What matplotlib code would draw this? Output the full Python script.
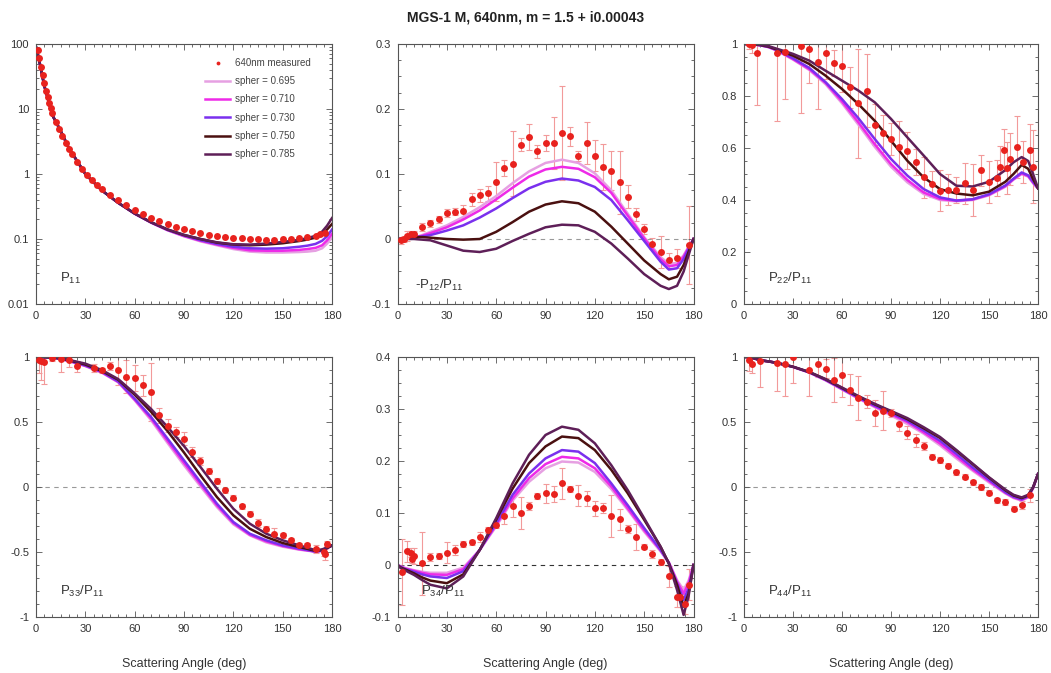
import matplotlib

matplotlib.use("Agg")

import matplotlib.pyplot as plt
from matplotlib.ticker import FuncFormatter, LogLocator, MultipleLocator, NullFormatter

plt.rcParams["font.family"] = ["Liberation Sans", "DejaVu Sans"]
plt.rcParams["mathtext.default"] = "regular"
plt.rcParams["axes.unicode_minus"] = False

TITLE = "MGS-1 M, 640nm, m = 1.5 + i0.00043"
XLABEL = "Scattering Angle (deg)"

# model curves: one row per sphericity value
SPHER = ["0.695", "0.710", "0.730", "0.750", "0.785"]
MODEL_COLORS = ["#e6a0e2", "#ee2ae8", "#7a30ee", "#4a1010", "#5e1f58"]
ANGLES = [0, 2, 5, 10, 15, 20, 30, 40, 50, 60, 70, 80, 90, 100, 110, 120,
          130, 140, 150, 160, 165, 170, 174, 177, 180]

P11_MODEL = [
    [90, 55, 23, 8.0, 4.6, 2.5, 1.0, 0.56, 0.36, 0.245, 0.178, 0.136, 0.110, 0.092,
     0.080, 0.070, 0.064, 0.062, 0.062, 0.063, 0.064, 0.066, 0.072, 0.085, 0.105],
    [90, 55, 23, 8.0, 4.6, 2.5, 1.0, 0.56, 0.36, 0.245, 0.179, 0.137, 0.111, 0.094,
     0.082, 0.073, 0.067, 0.066, 0.066, 0.068, 0.070, 0.073, 0.080, 0.095, 0.120],
    [90, 55, 23, 8.0, 4.6, 2.5, 1.0, 0.56, 0.36, 0.246, 0.180, 0.138, 0.113, 0.096,
     0.084, 0.076, 0.072, 0.071, 0.072, 0.076, 0.079, 0.084, 0.094, 0.110, 0.140],
    [90, 55, 23, 8.0, 4.6, 2.5, 1.0, 0.56, 0.36, 0.247, 0.181, 0.140, 0.115, 0.100,
     0.088, 0.082, 0.080, 0.082, 0.086, 0.093, 0.098, 0.105, 0.118, 0.140, 0.170],
    [90, 55, 23, 8.0, 4.6, 2.5, 1.0, 0.56, 0.36, 0.247, 0.181, 0.140, 0.116, 0.100,
     0.089, 0.083, 0.082, 0.085, 0.090, 0.097, 0.103, 0.112, 0.130, 0.160, 0.210],
]
P12_MODEL = [
    [0, 0.0, 0.001, 0.002, 0.006, 0.011, 0.021, 0.034, 0.049, 0.066, 0.086, 0.104, 0.117,
     0.122, 0.117, 0.101, 0.075, 0.039, 0.003, -0.028, -0.038, -0.037, -0.025, -0.012, 0],
    [0, 0.0, 0.001, 0.002, 0.005, 0.009, 0.018, 0.030, 0.044, 0.061, 0.079, 0.096, 0.107,
     0.111, 0.108, 0.095, 0.071, 0.036, 0.001, -0.031, -0.042, -0.040, -0.027, -0.013, 0],
    [0, 0.0, 0.001, 0.002, 0.004, 0.006, 0.013, 0.021, 0.033, 0.047, 0.063, 0.078, 0.088,
     0.093, 0.090, 0.080, 0.060, 0.029, -0.003, -0.035, -0.047, -0.045, -0.031, -0.015, 0],
    [0, 0.0, 0.001, 0.003, 0.003, 0.002, 0.000, -0.001, 0.000, 0.011, 0.026, 0.042, 0.053,
     0.058, 0.055, 0.042, 0.019, -0.007, -0.033, -0.054, -0.062, -0.058, -0.040, -0.020, 0],
    [0, 0.0, 0.0, 0.0, -0.001, -0.002, -0.010, -0.018, -0.020, -0.015, -0.003, 0.008, 0.018,
     0.022, 0.021, 0.011, -0.007, -0.030, -0.054, -0.072, -0.077, -0.072, -0.050, -0.025, 0],
]
P22_MODEL = [
    [1, 1, 0.999, 0.995, 0.988, 0.975, 0.940, 0.900, 0.845, 0.772, 0.690, 0.605, 0.528,
     0.468, 0.423, 0.400, 0.395, 0.400, 0.418, 0.451, 0.478, 0.500, 0.490, 0.465, 0.445],
    [1, 1, 0.999, 0.995, 0.988, 0.976, 0.942, 0.903, 0.850, 0.779, 0.699, 0.615, 0.538,
     0.477, 0.429, 0.404, 0.397, 0.402, 0.420, 0.453, 0.480, 0.502, 0.492, 0.466, 0.445],
    [1, 1, 0.999, 0.995, 0.989, 0.977, 0.945, 0.908, 0.853, 0.788, 0.715, 0.635, 0.558,
     0.494, 0.442, 0.410, 0.398, 0.403, 0.422, 0.456, 0.482, 0.506, 0.495, 0.470, 0.445],
    [1, 1, 0.999, 0.996, 0.990, 0.979, 0.955, 0.923, 0.878, 0.827, 0.769, 0.705, 0.628,
     0.551, 0.487, 0.442, 0.425, 0.418, 0.432, 0.470, 0.500, 0.535, 0.520, 0.480, 0.445],
    [1, 1, 0.999, 0.997, 0.992, 0.982, 0.962, 0.936, 0.897, 0.859, 0.821, 0.776, 0.712,
     0.641, 0.571, 0.500, 0.455, 0.452, 0.470, 0.515, 0.545, 0.565, 0.550, 0.500, 0.445],
]
P33_MODEL = [
    [1, 1, 0.999, 0.995, 0.985, 0.969, 0.930, 0.880, 0.805, 0.667, 0.513, 0.338, 0.167,
     0.005, -0.154, -0.287, -0.372, -0.426, -0.459, -0.482, -0.490, -0.497, -0.490, -0.470, -0.450],
    [1, 1, 0.999, 0.995, 0.985, 0.970, 0.932, 0.882, 0.808, 0.672, 0.526, 0.354, 0.185,
     0.021, -0.141, -0.277, -0.367, -0.418, -0.454, -0.479, -0.488, -0.497, -0.490, -0.470, -0.450],
    [1, 1, 0.999, 0.995, 0.986, 0.971, 0.935, 0.886, 0.812, 0.679, 0.538, 0.372, 0.205,
     0.038, -0.128, -0.269, -0.359, -0.410, -0.449, -0.474, -0.485, -0.497, -0.490, -0.470, -0.450],
    [1, 1, 0.999, 0.996, 0.988, 0.975, 0.942, 0.893, 0.825, 0.710, 0.578, 0.430, 0.265,
     0.090, -0.077, -0.218, -0.321, -0.385, -0.431, -0.462, -0.476, -0.492, -0.485, -0.470, -0.450],
    [1, 1, 0.999, 0.997, 0.990, 0.978, 0.949, 0.900, 0.830, 0.720, 0.600, 0.462, 0.315,
     0.154, -0.013, -0.167, -0.282, -0.359, -0.410, -0.449, -0.467, -0.487, -0.480, -0.465, -0.450],
]
P34_MODEL = [
    [0, -0.003, -0.006, -0.010, -0.013, -0.015, -0.015, -0.005, 0.029, 0.074, 0.124, 0.160,
     0.186, 0.199, 0.197, 0.179, 0.146, 0.106, 0.064, 0.026, 0.005, -0.029, -0.048, -0.030, 0],
    [0, -0.003, -0.007, -0.011, -0.015, -0.018, -0.019, -0.008, 0.029, 0.077, 0.128, 0.167,
     0.194, 0.208, 0.205, 0.186, 0.151, 0.109, 0.067, 0.028, 0.005, -0.032, -0.055, -0.035, 0],
    [0, -0.004, -0.008, -0.013, -0.018, -0.022, -0.025, -0.012, 0.029, 0.080, 0.135, 0.176,
     0.205, 0.221, 0.218, 0.196, 0.157, 0.115, 0.071, 0.029, 0.004, -0.035, -0.067, -0.045, 0],
    [0, -0.005, -0.009, -0.016, -0.024, -0.030, -0.035, -0.018, 0.029, 0.087, 0.147, 0.196,
     0.228, 0.247, 0.244, 0.221, 0.183, 0.138, 0.087, 0.035, 0.003, -0.038, -0.080, -0.055, 0],
    [0, -0.006, -0.011, -0.019, -0.029, -0.038, -0.045, -0.022, 0.029, 0.090, 0.157, 0.212,
     0.250, 0.266, 0.260, 0.234, 0.192, 0.144, 0.090, 0.035, 0.003, -0.048, -0.096, -0.060, 0],
]
P44_MODEL = [
    [1, 1, 0.994, 0.975, 0.966, 0.955, 0.923, 0.880, 0.820, 0.750, 0.680, 0.615, 0.550,
     0.485, 0.410, 0.320, 0.220, 0.125, 0.035, -0.050, -0.085, -0.105, -0.080, -0.010, 0.100],
    [1, 1, 0.994, 0.975, 0.966, 0.955, 0.924, 0.881, 0.822, 0.753, 0.684, 0.620, 0.560,
     0.500, 0.420, 0.335, 0.235, 0.135, 0.045, -0.045, -0.080, -0.100, -0.075, -0.008, 0.100],
    [1, 1, 0.994, 0.975, 0.966, 0.955, 0.924, 0.882, 0.824, 0.756, 0.688, 0.626, 0.570,
     0.510, 0.435, 0.355, 0.255, 0.150, 0.055, -0.040, -0.075, -0.095, -0.070, -0.005, 0.100],
    [1, 1, 0.994, 0.975, 0.966, 0.955, 0.925, 0.884, 0.828, 0.762, 0.696, 0.636, 0.580,
     0.522, 0.452, 0.378, 0.278, 0.175, 0.072, -0.025, -0.065, -0.085, -0.065, -0.003, 0.100],
    [1, 1, 0.994, 0.975, 0.966, 0.955, 0.925, 0.885, 0.830, 0.765, 0.700, 0.640, 0.585,
     0.530, 0.460, 0.385, 0.285, 0.180, 0.075, -0.020, -0.060, -0.080, -0.060, 0.000, 0.100],
]

# 640 nm laboratory measurements
P11_ANG = [1, 2, 3, 4, 5, 6, 7, 8, 9, 10, 12, 14, 16, 18, 20, 22, 25, 28, 31, 34, 37, 40,
           45, 50, 55, 60, 65, 70, 75, 80, 85, 90, 95, 100, 105, 110, 115, 120, 125, 130,
           135, 140, 145, 150, 155, 160, 165, 170, 173, 176]
P11_MEAS = [80, 60, 45, 33, 25, 19, 15.5, 12.5, 10.5, 8.6, 6.3, 4.9, 3.8, 3.0, 2.4, 2.0,
            1.55, 1.2, 0.97, 0.8, 0.68, 0.58, 0.48, 0.40, 0.33, 0.28, 0.24, 0.21, 0.19,
            0.17, 0.155, 0.142, 0.132, 0.124, 0.117, 0.111, 0.107, 0.104, 0.102, 0.100,
            0.099, 0.098, 0.098, 0.099, 0.100, 0.103, 0.107, 0.113, 0.118, 0.125]

P12_ANG = [2, 4, 6, 8, 10, 15, 20, 25, 30, 35, 40, 45, 50, 55, 60, 65, 70, 75, 80, 85, 90,
           95, 100, 105, 110, 115, 120, 125, 130, 135, 140, 145, 150, 155, 160, 165, 170, 177]
P12_MEAS = [-0.002, 0.000, 0.005, 0.007, 0.008, 0.019, 0.024, 0.030, 0.040, 0.042, 0.043,
            0.061, 0.067, 0.070, 0.088, 0.109, 0.116, 0.145, 0.157, 0.135, 0.148, 0.147,
            0.163, 0.158, 0.128, 0.148, 0.128, 0.111, 0.105, 0.087, 0.065, 0.038, 0.015,
            -0.007, -0.020, -0.033, -0.030, -0.010]
P12_ERR = [0.005, 0.005, 0.008, 0.005, 0.005, 0.006, 0.005, 0.005, 0.006, 0.005, 0.010,
           0.010, 0.010, 0.012, 0.030, 0.012, 0.050, 0.010, 0.020, 0.010, 0.012, 0.040,
           0.072, 0.015, 0.008, 0.032, 0.024, 0.035, 0.030, 0.048, 0.018, 0.010, 0.008,
           0.008, 0.025, 0.012, 0.015, 0.060]

P22_ANG = [3, 5, 8, 20, 25, 35, 40, 45, 50, 55, 60, 65, 70, 75, 80, 85, 90, 95, 100, 105,
           110, 115, 120, 125, 130, 135, 140, 145, 150, 155, 157, 159, 161, 163, 167, 171,
           175, 177]
P22_MEAS = [1.0, 0.995, 0.964, 0.964, 0.97, 0.994, 0.981, 0.93, 0.964, 0.927, 0.914,
            0.833, 0.772, 0.82, 0.69, 0.656, 0.635, 0.603, 0.59, 0.545, 0.487, 0.46, 0.436,
            0.44, 0.438, 0.464, 0.438, 0.515, 0.47, 0.484, 0.528, 0.592, 0.523, 0.556,
            0.605, 0.547, 0.592, 0.528]
P22_ERR = [0.02, 0.03, 0.20, 0.26, 0.18, 0.26, 0.13, 0.18, 0.10, 0.05, 0.10, 0.08, 0.21,
           0.14, 0.08, 0.07, 0.06, 0.10, 0.07, 0.05, 0.08, 0.05, 0.08, 0.06, 0.05, 0.08,
           0.10, 0.06, 0.08, 0.07, 0.08, 0.08, 0.10, 0.10, 0.12, 0.08, 0.10, 0.14]

P33_ANG = [2, 3, 5, 10, 15, 20, 25, 35, 40, 45, 50, 55, 60, 65, 70, 75, 80, 85, 90, 95,
           100, 105, 110, 115, 120, 125, 130, 135, 140, 145, 150, 155, 160, 165, 170, 175,
           176, 177]
P33_MEAS = [0.979, 0.97, 0.962, 0.99, 0.985, 0.975, 0.928, 0.918, 0.897, 0.928, 0.903,
            0.85, 0.841, 0.782, 0.731, 0.551, 0.47, 0.423, 0.372, 0.269, 0.2, 0.123, 0.046,
            -0.026, -0.082, -0.149, -0.205, -0.277, -0.321, -0.359, -0.372, -0.41, -0.449,
            -0.449, -0.474, -0.5, -0.518, -0.436]
P33_ERR = [0.10, 0.15, 0.17, 0.02, 0.10, 0.05, 0.04, 0.03, 0.02, 0.03, 0.12, 0.13, 0.10,
           0.08, 0.22, 0.06, 0.05, 0.04, 0.05, 0.04, 0.03, 0.02, 0.02, 0.02, 0.02, 0.02,
           0.02, 0.03, 0.02, 0.04, 0.02, 0.02, 0.02, 0.02, 0.03, 0.03, 0.04, 0.02]

P34_ANG = [3, 6, 8, 9, 10, 15, 20, 25, 30, 35, 40, 45, 50, 55, 60, 65, 70, 75, 80, 85, 90,
           95, 100, 105, 110, 115, 120, 125, 130, 135, 140, 145, 150, 155, 160, 165, 170,
           172, 175, 177]
P34_MEAS = [-0.013, 0.026, 0.024, 0.011, 0.017, 0.003, 0.015, 0.018, 0.024, 0.029, 0.04,
            0.044, 0.054, 0.067, 0.077, 0.094, 0.113, 0.1, 0.113, 0.133, 0.138, 0.136, 0.157,
            0.146, 0.133, 0.128, 0.109, 0.11, 0.094, 0.088, 0.069, 0.054, 0.035, 0.021,
            0.006, -0.022, -0.061, -0.061, -0.075, -0.038]
P34_ERR = [0.063, 0.020, 0.008, 0.008, 0.015, 0.060, 0.008, 0.006, 0.020, 0.010, 0.006,
           0.005, 0.010, 0.006, 0.006, 0.015, 0.020, 0.030, 0.008, 0.006, 0.018, 0.015,
           0.030, 0.006, 0.020, 0.015, 0.015, 0.010, 0.040, 0.020, 0.008, 0.025, 0.005,
           0.008, 0.006, 0.020, 0.020, 0.020, 0.020, 0.030]

P44_ANG = [3, 5, 10, 20, 25, 30, 40, 45, 50, 55, 60, 65, 70, 75, 80, 85, 90, 95, 100, 105,
           110, 115, 120, 125, 130, 135, 140, 145, 150, 155, 160, 165, 170, 175]
P44_MEAS = [0.975, 0.949, 0.97, 0.955, 0.949, 1.0, 0.9, 0.949, 0.911, 0.822, 0.86, 0.75,
            0.682, 0.656, 0.573, 0.586, 0.567, 0.484, 0.417, 0.359, 0.315, 0.232, 0.207,
            0.164, 0.113, 0.08, 0.037, 0.0, -0.045, -0.102, -0.115, -0.166, -0.14, -0.064]
P44_ERR = [0.08, 0.07, 0.20, 0.22, 0.25, 0.20, 0.20, 0.10, 0.07, 0.17, 0.17, 0.12, 0.17,
           0.05, 0.10, 0.15, 0.03, 0.05, 0.05, 0.05, 0.03, 0.02, 0.02, 0.02, 0.02, 0.02,
           0.02, 0.02, 0.02, 0.02, 0.02, 0.02, 0.03, 0.05]

MEAS_COLOR = "#e8221e"
ERR_COLOR = "#f29a9a"
FRAME = "#555555"


def tick_label(v, _pos):
    return f"{round(v, 6) + 0.0:g}"


def draw_panel(ax, model, ang, meas, err, label, ylim, major, minor,
               log=False, zero_color=None, label_xy=(0.08, 0.10)):
    if zero_color:
        ax.axhline(0, color=zero_color, lw=0.8, ls=(0, (4, 4)), zorder=0)
    if err is not None:
        ax.errorbar(ang, meas, yerr=err, fmt="none", ecolor=ERR_COLOR,
                    elinewidth=0.8, capsize=2.2, capthick=0.8, zorder=1)
    lines = []
    for values, color, s in zip(model, MODEL_COLORS, SPHER):
        (ln,) = ax.plot(ANGLES, values, color=color, lw=1.8, zorder=2,
                        label=f"spher = {s}")
        lines.append(ln)
    (dots,) = ax.plot(ang, meas, "o", color=MEAS_COLOR, ms=5, mec="none",
                      zorder=3, label="640nm measured")

    ax.set_xlim(0, 180)
    ax.set_ylim(*ylim)
    ax.xaxis.set_major_locator(MultipleLocator(30))
    ax.xaxis.set_minor_locator(MultipleLocator(5))
    if log:
        ax.set_yscale("log")
        ax.yaxis.set_major_locator(LogLocator(base=10))
        ax.yaxis.set_minor_locator(LogLocator(base=10, subs=range(2, 10)))
        ax.yaxis.set_minor_formatter(NullFormatter())
    else:
        ax.yaxis.set_major_locator(MultipleLocator(major))
        ax.yaxis.set_minor_locator(MultipleLocator(minor))
    ax.xaxis.set_major_formatter(FuncFormatter(tick_label))
    ax.yaxis.set_major_formatter(FuncFormatter(tick_label))

    ax.tick_params(which="both", direction="in", top=True, right=True,
                   color=FRAME, width=0.6, labelsize=8, labelcolor="#333333")
    ax.tick_params(which="major", length=4, pad=5)
    ax.tick_params(which="minor", length=2)
    for sp in ax.spines.values():
        sp.set_color(FRAME)
        sp.set_linewidth(0.8)

    ax.text(*label_xy, label, transform=ax.transAxes, fontsize=9.5,
            color="#333333", ha="left", va="center")
    return dots, lines


W, H = 1051, 673
fig = plt.figure(figsize=(W / 100, H / 100), dpi=100)

# right column pulled in a little so its last tick label stays on the canvas
lefts = [36, 397.5, 744]
widths = [296, 296, 294]
tops = [44, 357]
ah = 260
axes = []
for top in tops:
    for left, aw in zip(lefts, widths):
        axes.append(fig.add_axes([left / W, 1 - (top + ah) / H, aw / W, ah / H]))

dots, lines = draw_panel(axes[0], P11_MODEL, P11_ANG, P11_MEAS, None, "P$_{11}$",
                         (0.01, 100), None, None, log=True)
draw_panel(axes[1], P12_MODEL, P12_ANG, P12_MEAS, P12_ERR, "-P$_{12}$/P$_{11}$",
           (-0.1, 0.3), 0.1, 0.025, zero_color="#999999", label_xy=(0.06, 0.07))
draw_panel(axes[2], P22_MODEL, P22_ANG, P22_MEAS, P22_ERR, "P$_{22}$/P$_{11}$",
           (0, 1), 0.2, 0.05)
draw_panel(axes[3], P33_MODEL, P33_ANG, P33_MEAS, P33_ERR, "P$_{33}$/P$_{11}$",
           (-1, 1), 0.5, 0.1, zero_color="#999999")
draw_panel(axes[4], P34_MODEL, P34_ANG, P34_MEAS, P34_ERR, "P$_{34}$/P$_{11}$",
           (-0.1, 0.4), 0.1, 0.025, zero_color="#333333")
draw_panel(axes[5], P44_MODEL, P44_ANG, P44_MEAS, P44_ERR, "P$_{44}$/P$_{11}$",
           (-1, 1), 0.5, 0.1, zero_color="#999999")

for ax in axes[3:]:
    ax.set_xlabel(XLABEL, fontsize=9, color="#333333", labelpad=17)

axes[0].legend([dots] + lines, [dots.get_label()] + [ln.get_label() for ln in lines],
               loc="upper left", bbox_to_anchor=(0.555, 0.965), frameon=False,
               fontsize=7, labelcolor="#444444", handlelength=2.6, handletextpad=0.5,
               labelspacing=0.85, borderpad=0, markerscale=0.55)

fig.suptitle(TITLE, x=0.5, y=0.985, fontsize=10, fontweight="bold", color="#222222")

fig.savefig("out.png", dpi=100)
plt.close(fig)
